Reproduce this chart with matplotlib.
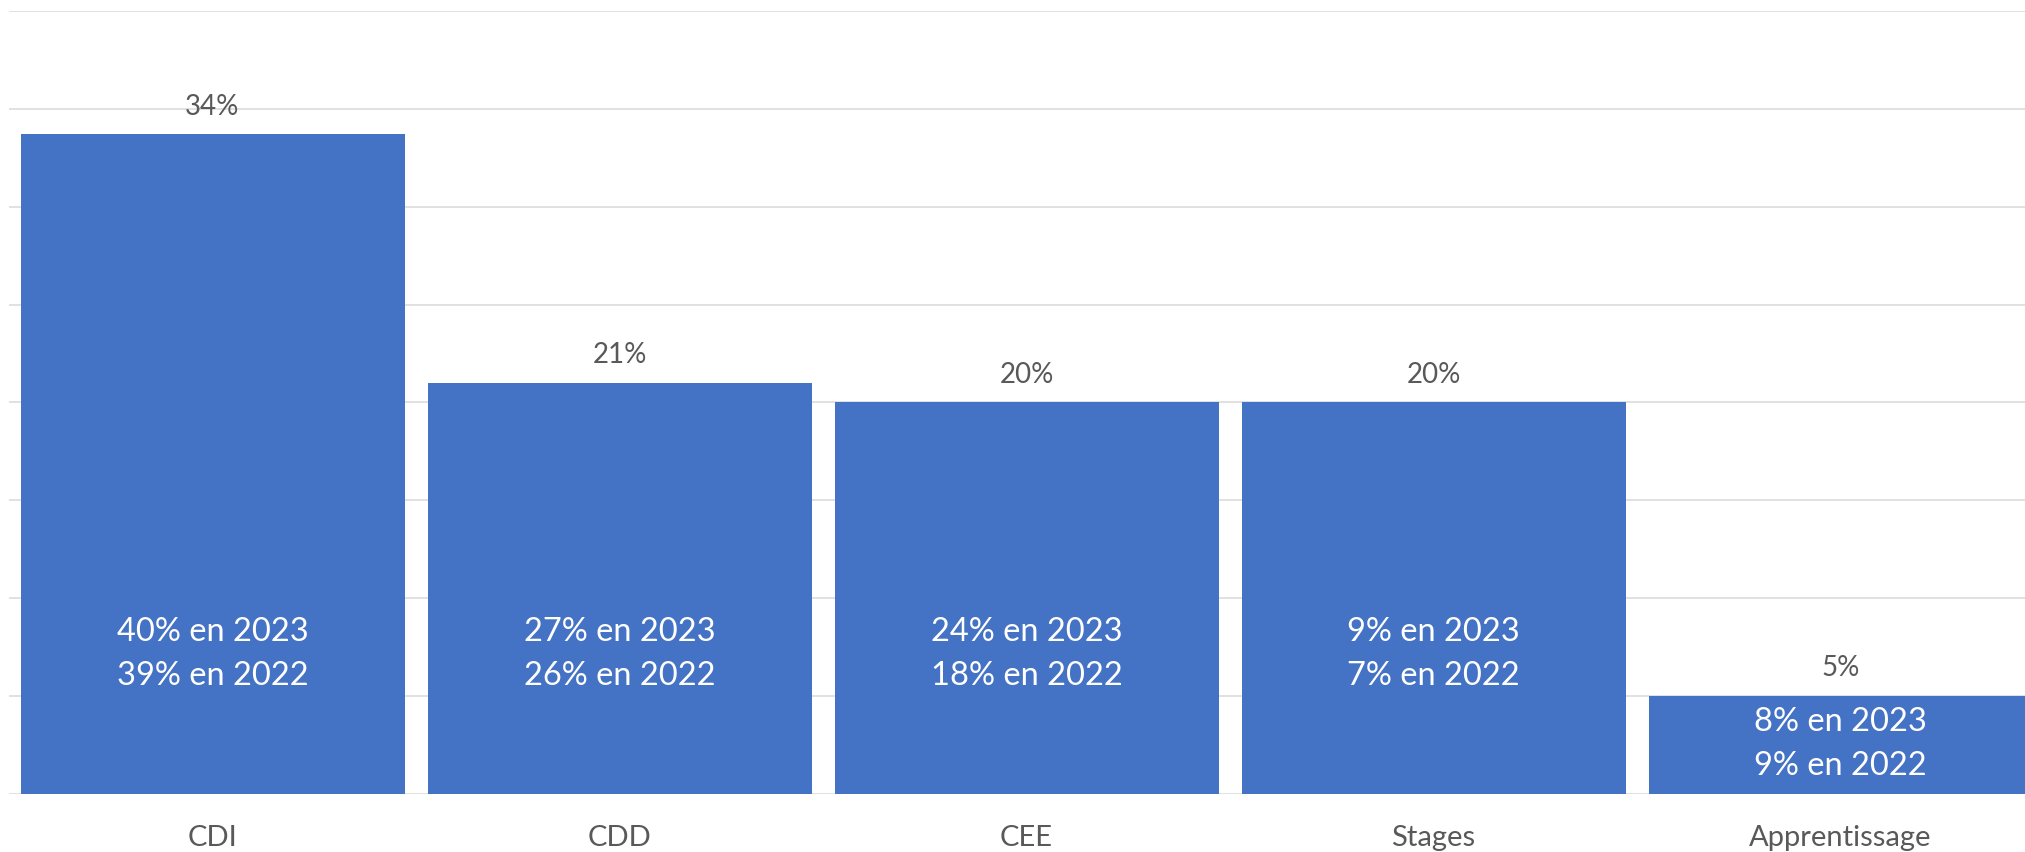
import matplotlib
matplotlib.use("Agg")
import matplotlib.pyplot as plt

categories = ["CDI", "CDD", "CEE", "Stages", "Apprentissage"]
values = [33.7, 21, 20, 20, 5]
share_2023 = [40, 27, 24, 9, 8]
share_2022 = [39, 26, 18, 7, 9]

plt.rcParams['font.family'] = ['Lato', 'DejaVu Sans']

W, H = 2025, 852
fig = plt.figure(figsize=(W / 100, H / 100), dpi=100)
ax = fig.add_axes([9 / W, 58 / H, 2035 / W, 783 / H])

bar_color = "#4472C4"
grid_color = "#D9D9D9"
text_gray = "#595959"

x = list(range(len(categories)))
bars = ax.bar(x, values, width=384 / 407, color=bar_color, zorder=3)

ax.set_xlim(-0.5, len(categories) - 0.5)
ax.set_ylim(0, 40)
ax.set_yticks(range(0, 41, 5))
ax.yaxis.grid(True, color=grid_color, linewidth=1.1, zorder=0)
ax.tick_params(axis='y', left=False, labelleft=False)
for s in ax.spines.values():
    s.set_visible(False)

ax.set_xticks(x)
ax.set_xticklabels(categories, fontsize=21, color=text_gray)
ax.tick_params(axis='x', bottom=False, pad=18.5)

for xi, v in zip(x, values):
    ax.annotate(f"{round(v)}%", (xi, v), xytext=(0, 20), textcoords='offset points',
                ha='center', va='center', fontsize=20, color=text_gray)

for xi, v, a, b in zip(x, values, share_2023, share_2022):
    yc = min(7.15, 0.51 * v)
    ax.annotate(f"{a}% en 2023", (xi, yc), xytext=(0, 16), textcoords='offset points',
                ha='center', va='center', fontsize=23.5, color='white', zorder=4)
    ax.annotate(f"{b}% en 2022", (xi, yc), xytext=(0, -16), textcoords='offset points',
                ha='center', va='center', fontsize=23.5, color='white', zorder=4)

fig.savefig("out.png", dpi=100)
